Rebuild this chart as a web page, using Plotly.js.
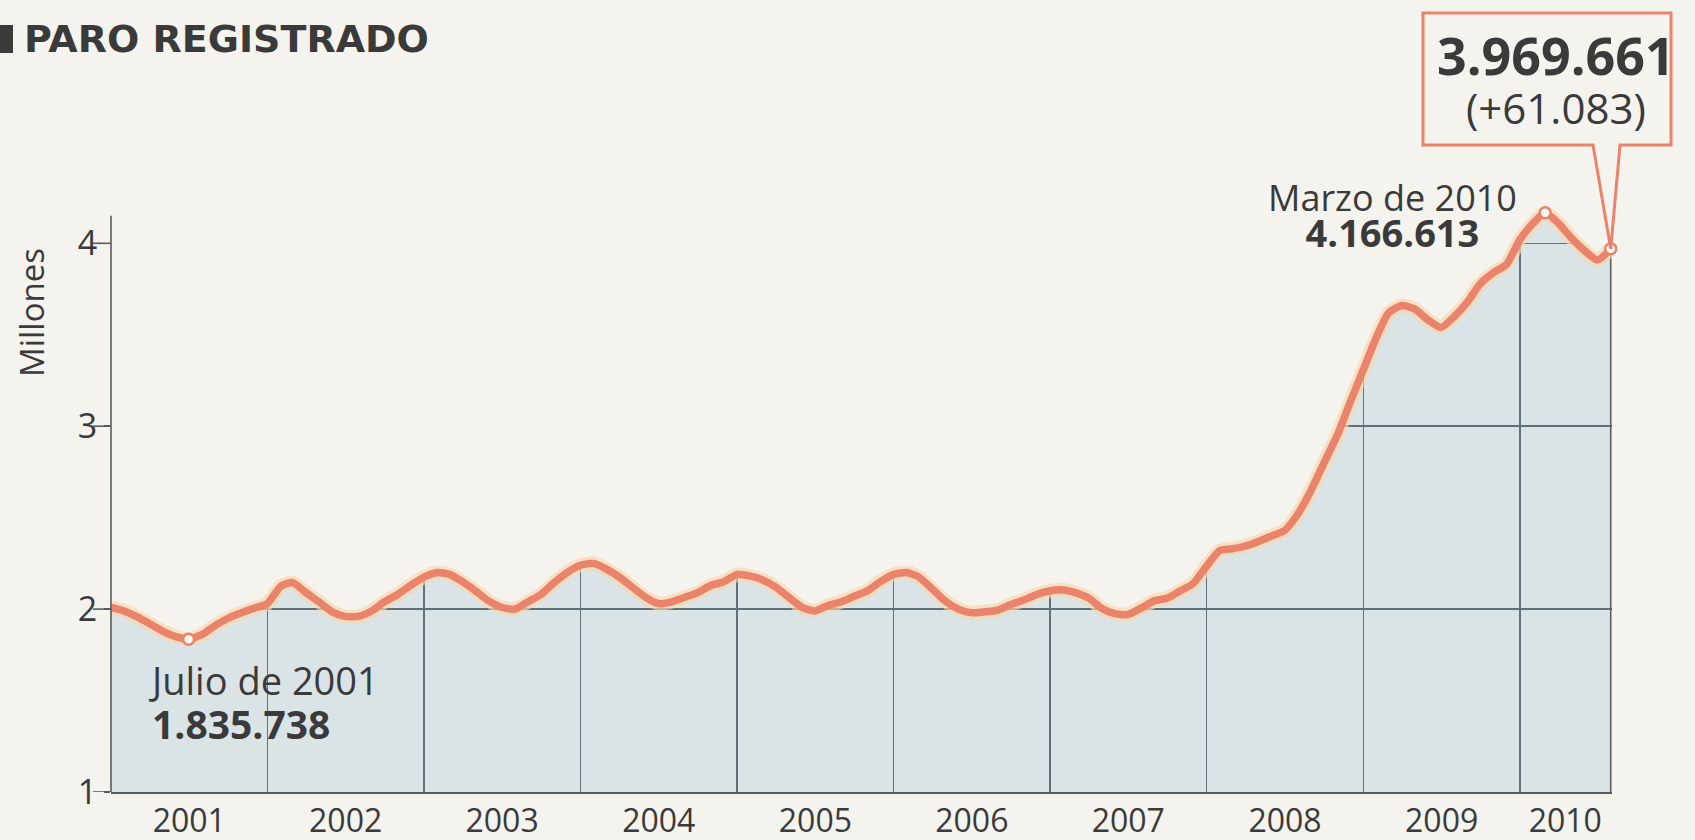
<!DOCTYPE html>
<html><head><meta charset="utf-8">
<script src="https://cdn.plot.ly/plotly-3.0.1.min.js"></script>
<style>html,body{margin:0;padding:0;background:#f5f3ee;}#chart{width:1695px;height:840px;}</style>
</head><body><div id="chart"></div>
<script>
// Paro registrado (millones de personas), enero 2001 - agosto 2010
const years = ['2001','2002','2003','2004','2005','2006','2007','2008','2009','2010'];
const paro2001 = [2.010,1.990,1.960,1.920,1.880,1.850,1.835738,1.860,1.910,1.950,1.980,2.005];
const paro2002 = [2.030,2.125,2.145,2.090,2.040,1.985,1.960,1.960,1.990,2.040,2.080,2.130];
const paro2003 = [2.175,2.200,2.190,2.150,2.100,2.045,2.010,2.000,2.040,2.080,2.145,2.200];
const paro2004 = [2.240,2.250,2.220,2.175,2.120,2.065,2.030,2.040,2.065,2.090,2.130,2.150];
const paro2005 = [2.190,2.180,2.160,2.120,2.065,2.010,1.990,2.020,2.040,2.070,2.100,2.150];
const paro2006 = [2.190,2.200,2.175,2.110,2.045,2.000,1.980,1.985,1.995,2.025,2.050,2.080];
const paro2007 = [2.100,2.105,2.090,2.060,2.005,1.975,1.970,2.005,2.045,2.060,2.100,2.140];
const paro2008 = [2.235,2.320,2.330,2.345,2.370,2.400,2.430,2.520,2.650,2.800,2.950,3.130];
const paro2009 = [3.310,3.490,3.620,3.660,3.640,3.580,3.540,3.600,3.680,3.780,3.840,3.885];
const paro2010 = [4.020,4.110,4.166613,4.110,4.030,3.960,3.908578,3.969661];
const yTicks = [1,2,3,4];
const yTickText = ['1','2','3','4'];

const series = [paro2001,paro2002,paro2003,paro2004,paro2005,paro2006,paro2007,paro2008,paro2009,paro2010];
const dates = [], values = [];
series.forEach((arr, yi) => arr.forEach((v, m) => {
  dates.push(years[yi] + '-' + String(m + 1).padStart(2, '0') + '-01');
  values.push(v);
}));
const lastIdx = values.length - 1;
const minIdx = values.indexOf(Math.min(...values));
const maxIdx = values.indexOf(Math.max(...values));

// Layout geometry
const W = 1695, H = 840, L = 111, R = 83, T = 161, B = 48;
const pw = W - L - R, ph = H - T - B;
const TOP = 4.45;
const px = x => (x - L) / pw;
const py = y => (H - B - y) / ph;
const paper = '#f5f3ee', coral = '#e9836b', grid = '#575c5e', ink = '#3a3a3a';

const toMs = s => { const p = s.split('-').map(Number); return Date.UTC(p[0], p[1] - 1, p[2]); };
const xStart = toMs(dates[0]);
const xEndMs = toMs(dates[lastIdx]) + 3 * 86400000;
const lastMs = toMs(dates[lastIdx]);
const xr = ms => (ms - xStart) / (xEndMs - xStart);

// tick positions: mid of each year's data span; grid at each year start
const yearStarts = years.map(y => Date.UTC(+y, 0, 1));
const yearMids = years.map((y, i) => {
  const s = Date.UTC(+y, 0, 1);
  const e = Math.min(Date.UTC(+y + 1, 0, 1), lastMs);
  return (s + e) / 2;
});

const font = 'Open Sans, Noto Sans, sans-serif';
const traces = [
  {x: dates, y: dates.map(() => TOP), mode: 'lines', line: {width: 0}, hoverinfo: 'skip', showlegend: false},
  {x: dates, y: values, mode: 'lines', fill: 'tonexty', fillcolor: paper, line: {width: 0}, hoverinfo: 'skip', showlegend: false},
  {x: dates, y: values, mode: 'lines', fill: 'tozeroy', fillcolor: 'rgba(135,178,205,0.24)', line: {width: 0}, hoverinfo: 'skip', showlegend: false},
  {x: [dates[lastIdx], dates[lastIdx]], y: [1, values[lastIdx]], mode: 'lines', line: {color: grid, width: 1.6}, hoverinfo: 'skip', showlegend: false},
  {x: dates, y: values, mode: 'lines', line: {color: 'rgba(250,214,170,0.65)', width: 14, shape: 'spline', smoothing: 0.6}, hoverinfo: 'skip', showlegend: false},
  {x: dates, y: values, mode: 'lines', line: {color: coral, width: 7.5, shape: 'spline', smoothing: 0.6}, showlegend: false},
  {x: [dates[minIdx], dates[maxIdx], dates[lastIdx]], y: [values[minIdx], values[maxIdx], values[lastIdx]],
   mode: 'markers', marker: {size: 11, color: '#fbf8f3', line: {color: coral, width: 2.5}}, cliponaxis: false, showlegend: false}
];

const tipX = L + xr(lastMs) * pw;
const tipY = H - B - (values[lastIdx] - 1) / (TOP - 1) * ph;
const boxPath = [
  [1593, 145], [tipX, tipY], [1620, 145], [1671, 145], [1671, 13], [1423, 13], [1423, 145]
].map((p, i) => (i ? 'L' : 'M') + px(p[0]).toFixed(5) + ',' + py(p[1]).toFixed(5)).join(' ') + ' Z';

// long tick marks on the y axis
const tickShapes = yTicks.map(v => ({type: 'line', xref: 'paper', yref: 'y', x0: px(L - 18), x1: 0, y0: v, y1: v,
  line: {color: grid, width: 1.6}}));

const layout = {
  width: W, height: H,
  margin: {l: L, r: R, t: T, b: B, pad: 0},
  paper_bgcolor: paper, plot_bgcolor: paper,
  showlegend: false,
  xaxis: {
    type: 'date', range: [xStart, xEndMs],
    tickmode: 'array', tickvals: yearMids, ticktext: years,
    showgrid: false, zeroline: false, ticks: '',
    showline: true, linecolor: grid, linewidth: 1.6,
    tickfont: {family: font, size: 32, color: ink},
    minor: {tickmode: 'array', tickvals: yearStarts, showgrid: true, gridcolor: grid, gridwidth: 1.6, ticks: ''},
    automargin: false, fixedrange: true
  },
  yaxis: {
    range: [1, TOP], tickmode: 'array', tickvals: yTicks, ticktext: yTickText,
    showgrid: true, gridcolor: grid, gridwidth: 1.6, zeroline: false,
    showline: false, ticks: 'outside', ticklen: 6, tickwidth: 1.6, tickcolor: grid,
    tickfont: {family: font, size: 34, color: ink},
    automargin: false, fixedrange: true
  },
  shapes: [
    {type: 'line', xref: 'paper', yref: 'y', x0: 0, x1: 0, y0: 1, y1: 4.15, line: {color: grid, width: 1.6}},
    ...tickShapes,
    {type: 'rect', xref: 'paper', yref: 'paper', x0: px(-2), x1: px(13), y0: py(53), y1: py(25), fillcolor: ink, line: {width: 0}},
    {type: 'path', xref: 'paper', yref: 'paper', path: boxPath, fillcolor: 'rgba(0,0,0,0)', line: {color: coral, width: 3}, layer: 'above'}
  ],
  annotations: [
    {xref: 'paper', yref: 'paper', x: px(22), y: py(39), xanchor: 'left', yanchor: 'middle', showarrow: false,
     text: '<b>PARO REGISTRADO</b>', font: {family: 'DejaVu Sans, sans-serif', size: 38, color: ink}},
    {xref: 'paper', yref: 'paper', x: px(31), y: py(313), xanchor: 'center', yanchor: 'middle', showarrow: false, textangle: -90,
     text: 'Millones', font: {family: font, size: 33, color: ink}},
    {xref: 'paper', yref: 'paper', x: px(146), y: py(702), xanchor: 'left', yanchor: 'middle', showarrow: false, align: 'left',
     text: '<span style="font-size:38px">Julio de 2001</span><br><span style="font-size:39px"><b>1.835.738</b></span>',
     font: {family: font, size: 34, color: ink}},
    {xref: 'paper', yref: 'paper', x: px(1392), y: py(215), xanchor: 'center', yanchor: 'middle', showarrow: false, align: 'center',
     text: '<span style="font-size:36px">Marzo de 2010</span><br><span style="font-size:38px"><b>4.166.613</b></span>',
     font: {family: font, size: 28, color: ink}},
    {xref: 'paper', yref: 'paper', x: px(1556), y: py(78), xanchor: 'center', yanchor: 'middle', showarrow: false, align: 'center',
     text: '<span style="font-size:52px"><b>3.969.661</b></span><br><span style="font-size:42px">(+61.083)</span>',
     font: {family: font, size: 38, color: ink}}
  ]
};

Plotly.newPlot('chart', traces, layout, {displayModeBar: false, staticPlot: true});
</script>
</body></html>
